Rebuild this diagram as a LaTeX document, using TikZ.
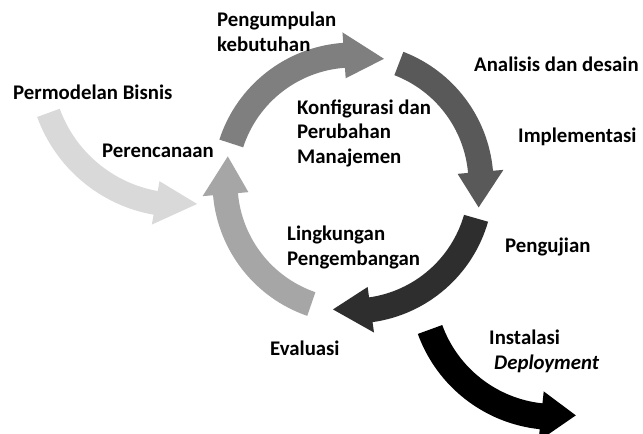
\documentclass[tikz,border=0pt]{standalone}
\usepackage{fontspec}
\setmainfont{Carlito}
\definecolor{cIn}{HTML}{D9D9D9}
\definecolor{cLeft}{HTML}{A6A6A6}
\definecolor{cTop}{HTML}{7F7F7F}
\definecolor{cRight}{HTML}{595959}
\definecolor{cBottom}{HTML}{2E2E2E}
\definecolor{cOut}{HTML}{000000}
\tikzset{
  lbl/.style={font=\fontsize{20.8}{24.5}\selectfont\bfseries, inner sep=0pt, anchor=base west, align=left, text=black},
}
% #1 colour, #2 #3 centre, #4 radius, #5 tail angle, #6 head-base angle, #7 tip angle, #8 half band, #9 half head
\newcommand{\blockarc}[9]{%
  \fill[#1, shift={(#2,#3)}]
    (#5:{#4+#8}) arc[start angle=#5, end angle=#6, radius={#4+#8}]
    -- (#6:{#4+#9}) -- (#7:#4) -- (#6:{#4-#9}) -- (#6:{#4-#8})
    arc[start angle=#6, end angle=#5, radius={#4-#8}] -- cycle;}
\begin{document}
\begin{tikzpicture}[x=1pt,y=1pt]
  \useasboundingbox (0,0) rectangle (643,-434);
  \fill[white] (0,0) rectangle (643,-434);
  \clip (0,0) rectangle (643,-434);
  % input arrow
  \blockarc{cIn}{180}{-65}{140}{200}{260}{277}{12}{22}
  % cycle
  \blockarc{cTop}{353}{-183}{128}{162}{94}{76}{12.5}{23}
  \blockarc{cRight}{353}{-183}{128}{69}{5}{-11}{12.5}{23}
  \blockarc{cBottom}{353}{-183}{128}{-16}{-82}{-99}{12.5}{23}
  \blockarc{cLeft}{353}{-183}{128}{251}{185}{168}{12.5}{23}
  % output arrow
  \blockarc{cOut}{555}{-284}{133}{200}{264}{279}{13}{25}
  % labels (base = baseline of last line)
  \node[lbl] (pb) at (13,-99) {Permodelan Bisnis};
  \node[lbl] (pr) at (102,-157) {Perencanaan};
  \node[lbl] (pk) at (217,-51) {Pengumpulan\\kebutuhan};
  \node[lbl] (ad) at (474,-71) {Analisis dan desain};
  \node[lbl] (im) at (518,-142) {Implementasi};
  \node[lbl] (pu) at (505,-252) {Pengujian};
  \node[lbl] (ko) at (297,-163) {Konfigurasi dan\\Perubahan\\Manajemen};
  \node[lbl] (li) at (287,-265) {Lingkungan\\Pengembangan};
  \node[lbl] (ev) at (270,-355) {Evaluasi};
  \node[lbl] (in) at (489,-369) {Instalasi\\\hspace*{5pt}\itshape Deployment};
\end{tikzpicture}
\end{document}
